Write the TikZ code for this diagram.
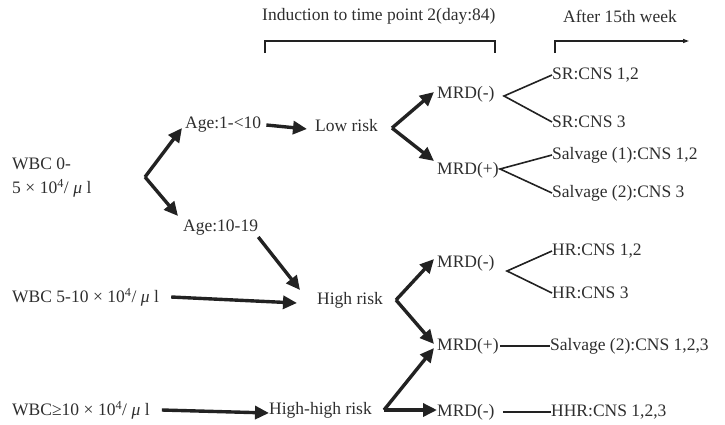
\documentclass[tikz,border=0pt]{standalone}
\usepackage{fontspec}
\setmainfont{Liberation Serif}
\usetikzlibrary{arrows.meta}
\definecolor{ink}{HTML}{222222}
\definecolor{txt}{HTML}{2E2E2E}
\newcommand{\gp}{\hspace{4.5pt}}
\begin{document}
\begin{tikzpicture}[x=1pt,y=-1pt,
  lbl/.style={anchor=west,inner sep=0pt,text=txt,font=\fontsize{17.5}{24}\selectfont},
  bigarrow/.style={draw=ink,line width=3.4pt,-{Triangle[length=14pt,width=13pt]}},
  fork/.style={draw=ink,line width=1.6pt},
  brack/.style={draw=ink,line width=1.2pt}]
\useasboundingbox (0,0) rectangle (725,424);
% headers
\node[lbl] (ind) at (262,16) {Induction to time point 2(day:84)};
\node[lbl] (aft) at (563,16) {After 15th week};
\coordinate (b1) at (265,53); \coordinate (b2) at (265,41);
\coordinate (b3) at (495,41); \coordinate (b4) at (495,53);
\draw[brack] (b1) -- (b2) -- (b3) -- (b4);
\coordinate (a1) at (555,53); \coordinate (a2) at (555,41); \coordinate (a3) at (689,41);
\draw[brack,-{Triangle[length=6pt,width=4pt]}] (a1) -- (a2) -- (a3);
% left column
\node[lbl,align=left] (wbc1) at (12,178) {WBC 0-\\5\gp×\gp10\textsuperscript{4}/\gp{\itshape μ}\gp l};
\node[lbl] (wbc2) at (12,297) {WBC 5-10\gp×\gp10\textsuperscript{4}/\gp{\itshape μ}\gp l};
\node[lbl] (wbc3) at (12,410) {WBC≥10\gp×\gp10\textsuperscript{4}/\gp{\itshape μ}\gp l};
% ages
\node[lbl] (age1) at (185,125) {Age:1-<10};
\node[lbl] (age2) at (183,228) {Age:10-19};
\coordinate (v1) at (145,177);
\draw[bigarrow] (v1) -- ([shift={(-3,3)}]age1.west);
\draw[bigarrow] (v1) -- ([shift={(-5,-12)}]age2.west);
% risks
\node[lbl] (low) at (315,126) {Low risk};
\node[lbl] (high) at (317,300) {High risk};
\node[lbl] (hh) at (269,410) {High-high risk};
\draw[bigarrow] ([xshift=5]age1.east) -- ([xshift=-8,yshift=-3]low.west);
\draw[bigarrow] ([shift={(0,9)}]age2.east) -- ([shift={(-17,-10)}]high.west);
\draw[bigarrow] ([xshift=12]wbc2.east) -- ([xshift=-20,yshift=-3]high.west);
\draw[bigarrow] ([xshift=12]wbc3.east) -- ([xshift=0,yshift=-3]hh.west);
% MRD nodes
\node[lbl] (m1) at (437,94) {MRD(-)};
\node[lbl] (m2) at (437,170) {MRD(+)};
\node[lbl] (m3) at (437,263) {MRD(-)};
\node[lbl] (m4) at (437,346) {MRD(+)};
\node[lbl] (m5) at (437,412) {MRD(-)};
\coordinate (v2) at (392,128);
\draw[bigarrow] (v2) -- ([shift={(-3,-2)}]m1.west);
\draw[bigarrow] (v2) -- ([shift={(-3,-9)}]m2.west);
\coordinate (v3) at (396,300);
\draw[bigarrow] (v3) -- ([shift={(-3,-4)}]m3.west);
\draw[bigarrow] (v3) -- ([shift={(-3,-2)}]m4.west);
\coordinate (v4) at (384,410);
\draw[bigarrow] (v4) -- ([shift={(-3,2)}]m4.west);
\draw[bigarrow] (v4) -- ([shift={(0,-2)}]m5.west);
% outcomes
\node[lbl] (sr12) at (552,75) {SR:CNS 1,2};
\node[lbl] (sr3) at (552,122) {SR:CNS 3};
\node[lbl] (s1) at (552,155) {Salvage (1):CNS 1,2};
\node[lbl] (s2) at (552,193) {Salvage (2):CNS 3};
\node[lbl] (hr12) at (552,251) {HR:CNS 1,2};
\node[lbl] (hr3) at (552,293) {HR:CNS 3};
\node[lbl] (s3) at (550,346) {Salvage (2):CNS 1,2,3};
\node[lbl] (hhr) at (551,412) {HHR:CNS 1,2,3};
\coordinate (f1) at (504,96);
\draw[fork] (sr12.west) -- (f1) -- (sr3.west);
\coordinate (f2) at (500,169);
\draw[fork] (s1.west) -- (f2) -- (s2.west);
\coordinate (f3) at (507,271);
\draw[fork] (hr12.west) -- (f3) -- (hr3.west);
\draw[fork] ([xshift=1]m4.east |- s3.west) -- (s3.west);
\draw[fork] ([xshift=8]m5.east |- hhr.west) -- (hhr.west);
\end{tikzpicture}
\end{document}
